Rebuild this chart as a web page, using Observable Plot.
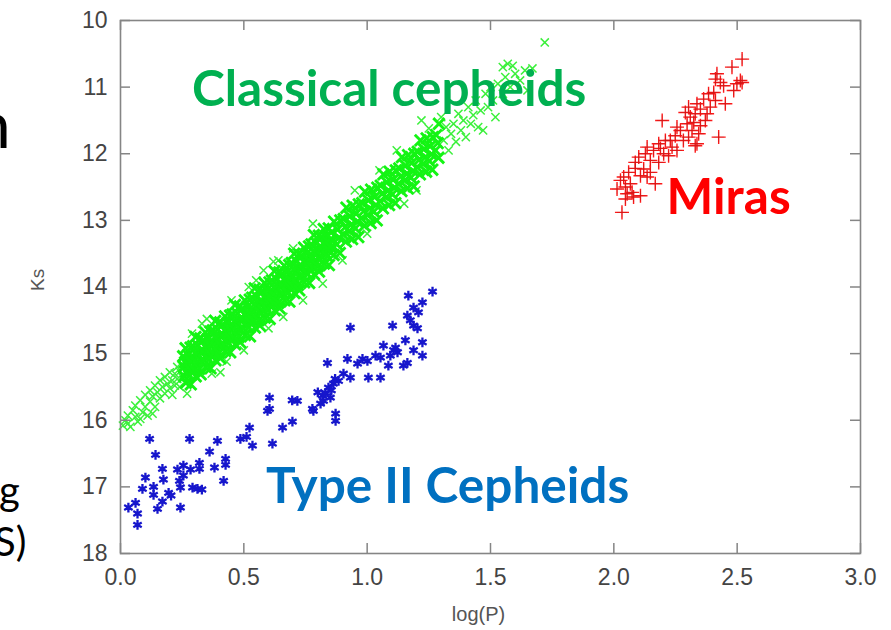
<!DOCTYPE html>
<html><head><meta charset="utf-8">
<script src="https://cdn.jsdelivr.net/npm/d3@7"></script>
<script src="https://cdn.jsdelivr.net/npm/@observablehq/plot@0.6"></script>
<style>
body{margin:0;background:#fff;overflow:hidden}
#wrap{position:relative;width:891px;height:630px;overflow:hidden}
#wrap svg{position:absolute;left:0;top:0}
.frag{position:absolute;color:#000;font-family:Lato,"Open Sans",sans-serif;white-space:nowrap;line-height:1}
</style></head><body><div id="wrap">
<div class="frag" style="left:-26px;top:90px;font-size:66px">n</div>
<div class="frag" style="left:-1px;top:470px;font-size:40px">g</div>
<div class="frag" style="left:-6px;top:521px;font-size:40px">S)</div>
</div>
<script>
// Classical cepheids (green x), log(P) vs Ks
const classicalFaint = [[0.01,16.08],[0.02,16.0],[0.03,15.93],[0.04,16.1],[0.05,15.85],[0.06,15.95],[0.06,15.78],[0.07,16.02],[0.08,15.7],[0.09,15.88],[0.10,15.62],[0.10,15.8],[0.11,15.93],[0.12,15.55],[0.12,15.72],[0.13,15.64],[0.14,15.48],[0.14,15.8],[0.15,15.58],[0.16,15.4],[0.16,15.67],[0.17,15.5],[0.18,15.35],[0.18,15.6],[0.19,15.45],[0.20,15.28],[0.20,15.52],[0.21,15.4],[0.21,15.62],[0.22,15.3],[0.22,15.48],[0.23,15.2],[0.23,15.38],[0.24,15.27],[0.24,15.5],[0.25,15.15],[0.25,15.35],[0.08,15.98],[0.03,16.05],[0.13,15.9]];
const classicalCore = [
[.264,14.92],[.254,15.04],[.262,15.13],[.257,15.20],[.267,15.27],[.259,15.34],[.265,15.44],
[.284,14.91],[.274,15.02],[.282,15.11],[.277,15.18],[.287,15.25],[.279,15.33],[.285,15.46],
[.304,14.75],[.294,14.89],[.302,14.99],[.297,15.07],[.307,15.14],[.299,15.24],[.305,15.34],
[.324,14.77],[.314,14.88],[.322,14.97],[.317,15.04],[.327,15.12],[.319,15.23],[.325,15.31],
[.344,14.68],[.334,14.80],[.342,14.89],[.337,14.96],[.347,15.03],[.339,15.10],[.345,15.20],
[.364,14.67],[.354,14.78],[.362,14.87],[.357,14.94],[.367,15.01],[.359,15.09],[.365,15.22],
[.384,14.51],[.374,14.65],[.382,14.75],[.377,14.83],[.387,14.90],[.379,15.00],[.385,15.10],
[.404,14.53],[.394,14.64],[.402,14.73],[.397,14.80],[.407,14.88],[.399,14.99],[.405,15.07],
[.424,14.44],[.414,14.56],[.422,14.65],[.417,14.72],[.427,14.79],[.419,14.86],[.425,14.96],
[.444,14.43],[.434,14.54],[.442,14.63],[.437,14.70],[.447,14.77],[.439,14.85],[.445,14.98],
[.464,14.27],[.454,14.41],[.462,14.51],[.457,14.59],[.467,14.66],[.459,14.76],[.465,14.86],
[.484,14.29],[.474,14.40],[.482,14.49],[.477,14.56],[.487,14.64],[.479,14.75],[.485,14.83],
[.504,14.20],[.494,14.32],[.502,14.41],[.497,14.48],[.507,14.55],[.499,14.62],[.505,14.72],
[.524,14.19],[.514,14.30],[.522,14.39],[.517,14.46],[.527,14.53],[.519,14.61],[.525,14.74],
[.544,14.02],[.534,14.16],[.542,14.26],[.537,14.34],[.547,14.41],[.539,14.51],[.545,14.61],
[.564,14.04],[.554,14.15],[.562,14.24],[.557,14.31],[.567,14.39],[.559,14.50],[.565,14.58],
[.584,13.94],[.574,14.06],[.582,14.15],[.577,14.22],[.587,14.29],[.579,14.36],[.585,14.46],
[.604,13.93],[.594,14.04],[.602,14.13],[.597,14.20],[.607,14.27],[.599,14.35],[.605,14.48],
[.624,13.76],[.614,13.90],[.622,14.00],[.617,14.08],[.627,14.15],[.619,14.25],[.625,14.35],
[.644,13.78],[.634,13.89],[.642,13.98],[.637,14.05],[.647,14.13],[.639,14.24],[.645,14.32],
[.664,13.68],[.654,13.80],[.662,13.89],[.657,13.96],[.667,14.03],[.659,14.10],[.665,14.20],
[.684,13.67],[.674,13.78],[.682,13.87],[.677,13.94],[.687,14.01],[.679,14.09],[.685,14.22],
[.704,13.50],[.694,13.64],[.702,13.74],[.697,13.82],[.707,13.89],[.699,13.99],[.705,14.09],
[.724,13.51],[.714,13.62],[.722,13.71],[.717,13.78],[.727,13.86],[.719,13.97],[.725,14.05],
[.744,13.41],[.734,13.53],[.742,13.62],[.737,13.69],[.747,13.76],[.739,13.83],[.745,13.93],
[.764,13.39],[.754,13.50],[.762,13.59],[.757,13.66],[.767,13.73],[.759,13.81],[.765,13.94],
[.784,13.22],[.774,13.36],[.782,13.46],[.777,13.54],[.787,13.61],[.779,13.71],[.785,13.81],
[.804,13.23],[.794,13.34],[.802,13.43],[.797,13.50],[.807,13.58],[.799,13.69],[.805,13.77],
[.824,13.13],[.814,13.25],[.822,13.34],[.817,13.41],[.827,13.48],[.819,13.55],[.825,13.65],
[.844,13.12],[.834,13.23],[.842,13.32],[.837,13.39],[.847,13.46],[.839,13.54],[.845,13.67]];
const classicalUpper = [
[.866,13.02],[.855,13.18],[.861,13.30],[.852,13.40],[.864,13.52],
[.891,13.00],[.880,13.14],[.886,13.26],[.877,13.36],[.889,13.49],
[.916,12.81],[.905,12.98],[.911,13.10],[.902,13.21],[.914,13.32],
[.941,12.78],[.930,12.94],[.936,13.06],[.927,13.16],[.939,13.28],
[.966,12.76],[.955,12.90],[.961,13.02],[.952,13.12],[.964,13.25],
[.991,12.57],[.980,12.74],[.986,12.86],[.977,12.97],[.989,13.08],
[1.016,12.54],[1.005,12.70],[1.011,12.82],[1.002,12.92],[1.014,13.04],
[1.041,12.51],[1.030,12.65],[1.036,12.77],[1.027,12.87],[1.039,13.00],
[1.066,12.31],[1.055,12.48],[1.061,12.60],[1.052,12.71],[1.064,12.82],
[1.091,12.27],[1.080,12.43],[1.086,12.55],[1.077,12.65],[1.089,12.77],
[1.116,12.25],[1.105,12.39],[1.111,12.51],[1.102,12.61],[1.114,12.74],
[1.141,12.05],[1.130,12.22],[1.136,12.34],[1.127,12.45],[1.139,12.56],
[1.166,12.02],[1.155,12.18],[1.161,12.30],[1.152,12.40],[1.164,12.52],
[1.191,12.00],[1.180,12.14],[1.186,12.26],[1.177,12.36],[1.189,12.49],
[1.216,11.80],[1.205,11.97],[1.211,12.09],[1.202,12.20],[1.214,12.31],
[1.241,11.77],[1.230,11.93],[1.236,12.05],[1.227,12.15],[1.239,12.27],
[1.266,11.75],[1.255,11.89],[1.261,12.01],[1.252,12.11],[1.264,12.24],
[1.291,11.55],[1.280,11.72],[1.286,11.84],[1.277,11.95],[1.289,12.06]];
const classicalBright = [[1.31,11.8],[1.32,11.6],[1.33,11.95],[1.34,11.7],[1.35,11.55],[1.36,11.82],[1.37,11.4],[1.38,11.65],[1.39,11.5],[1.40,11.75],[1.41,11.3],[1.42,11.55],[1.43,11.42],[1.44,11.2],[1.45,11.6],[1.46,11.35],[1.47,11.65],[1.48,11.1],[1.49,11.3],[1.50,11.0],[1.51,11.2],[1.52,11.45],[1.53,10.95],[1.55,11.1],[1.56,10.85],[1.57,10.65],[1.58,11.0],[1.60,10.8],[1.62,10.9],[1.64,10.75],[1.67,10.72],[1.59,10.68],[1.72,10.33],[1.55,10.7],[1.65,11.05]];
const classicalOutliers = [[0.405,15.28],[0.33,14.55],[0.45,14.2],[0.55,13.9],[0.62,13.62],[0.70,13.42],[0.78,13.05],[0.29,14.7],[0.37,15.3],[0.50,14.95],[0.60,14.62],[0.66,14.45],[0.74,14.2],[0.82,13.95],[0.35,14.48],[0.52,14.0],[0.64,13.6],[0.27,15.6],[0.43,15.12],[0.58,13.75],[0.95,12.55],[1.05,12.25],[1.12,11.95],[1.22,11.5],[1.25,11.62],[1.30,11.45],[0.90,13.6],[1.00,13.2],[1.15,12.75],[1.20,12.55]];

// Type II Cepheids (blue *)
const typeII = [[0.118,16.28],[0.280,16.28],[0.393,16.31],[0.142,16.52],[0.361,16.47],[0.426,16.58],[0.426,16.67],[0.170,16.73],[0.231,16.74],[0.255,16.68],[0.284,16.74],[0.320,16.64],[0.320,16.73],[0.381,16.71],[0.255,16.83],[0.101,16.86],[0.174,16.89],[0.239,16.91],[0.418,16.91],[0.089,17.03],[0.134,17.00],[0.134,17.12],[0.195,17.09],[0.205,17.13],[0.243,17.01],[0.292,17.01],[0.312,17.03],[0.330,17.04],[0.170,17.22],[0.150,17.33],[0.243,17.31],[0.061,17.24],[0.032,17.31],[0.069,17.40],[0.069,17.57],[0.486,16.28],[0.511,16.25],[0.523,16.11],[0.535,16.38],[0.596,15.86],[0.616,16.35],[0.657,16.11],[0.697,16.02],[0.717,15.71],[0.604,15.66],[0.604,15.83],[0.782,15.86],[0.811,15.75],[0.872,15.90],[0.872,16.01],[0.823,15.71],[0.819,15.63],[0.831,15.59],[0.843,15.51],[0.863,15.45],[0.851,15.66],[0.884,15.41],[0.904,15.30],[0.932,15.36],[1.005,15.36],[1.054,15.36],[0.839,15.14],[0.920,15.08],[0.961,15.15],[0.981,15.08],[1.001,15.11],[1.034,15.03],[1.054,15.06],[1.086,15.18],[1.147,15.18],[1.163,15.14],[1.188,14.95],[1.224,15.03],[1.066,14.88],[1.115,14.91],[1.123,14.98],[1.155,14.80],[1.224,14.83],[0.932,14.61],[1.103,14.58],[1.188,14.58],[1.204,14.62],[1.163,14.43],[1.175,14.50],[1.188,14.31],[1.224,14.23],[1.167,14.13],[1.265,14.07],[1.208,14.38],[0.696,15.70],[0.778,15.83],[1.107,14.95],[1.094,15.03],[0.800,15.58],[0.855,15.55],[0.870,15.38]];

// Miras (red +)
const miras = [[2.520,10.58],[2.479,10.70],[2.513,10.90],[2.499,10.95],[2.418,10.80],[2.412,10.88],[2.432,10.93],[2.445,10.98],[2.520,10.93],[2.486,11.05],[2.405,11.08],[2.384,11.10],[2.364,11.18],[2.412,11.20],[2.452,11.25],[2.337,11.25],[2.351,11.33],[2.330,11.40],[2.378,11.40],[2.391,11.30],[2.310,11.45],[2.297,11.55],[2.324,11.53],[2.317,11.65],[2.344,11.70],[2.303,11.75],[2.330,11.88],[2.425,11.75],[2.196,11.50],[2.270,11.65],[2.249,11.73],[2.229,11.80],[2.209,11.80],[2.236,11.90],[2.256,11.95],[2.182,11.85],[2.161,11.95],[2.135,11.90],[2.128,12.00],[2.202,12.00],[2.222,12.03],[2.101,12.05],[2.087,12.13],[2.148,12.10],[2.182,12.13],[2.121,12.23],[2.148,12.28],[2.135,12.35],[2.168,12.45],[2.060,12.28],[2.040,12.35],[2.027,12.40],[2.067,12.45],[2.047,12.50],[2.013,12.53],[2.054,12.60],[2.074,12.58],[2.080,12.65],[2.108,12.63],[2.047,12.68],[2.033,12.88],[2.256,11.60],[2.290,11.38],[2.303,11.30],[2.337,11.85],[2.371,11.50],[2.351,11.58],[2.282,11.80],[2.189,11.92],[2.108,12.33],[2.087,12.22]];

const xTicks = [0, 0.5, 1.0, 1.5, 2.0, 2.5, 3.0];
const yTicks = [10, 11, 12, 13, 14, 15, 16, 17, 18];
const xLabel = "log(P)";
const yLabel = "Ks";
const annotationText = ["Classical cepheids", "Miras", "Type II Cepheids"];
const annotationLogP = [0.29, 2.214, 0.59];
const annotationKs = [11.05, 12.66, 17.01];
const annotationColor = ["#00B050", "#FF0000", "#0070C0"];

const classicalSparse = [...classicalFaint, ...classicalBright, ...classicalOutliers];
const classicalDense = [...classicalCore, ...classicalUpper];
const annotations = annotationText.map((t, i) => ({t, x: annotationLogP[i], y: annotationKs[i], c: annotationColor[i]}));

const W = 891, H = 630, mL = 120, mR = 31, mT = 20, mB = 77;
const fw = W - mL - mR, fh = H - mT - mB, tick = 10, axisColor = "#858585";

const plot = Plot.plot({
  width: W, height: H,
  marginLeft: mL, marginRight: mR, marginTop: mT, marginBottom: mB,
  style: {background: "transparent", fontFamily: "'Liberation Sans', Arial, sans-serif", fontSize: "23px", color: "#444"},
  x: {domain: [0, 3]},
  y: {domain: [10, 18], reverse: true},
  marks: [
    Plot.dot(classicalSparse, {x: d => d[0], y: d => d[1], symbol: "times", r: 3.8, stroke: "#3cf03c", strokeWidth: 1.5}),
    Plot.dot(classicalDense, {x: d => d[0], y: d => d[1], symbol: "times", r: 5.2, stroke: "#14f414", strokeWidth: 2.9}),
    Plot.dot(typeII, {x: d => d[0], y: d => d[1], symbol: "asterisk", r: 4.6, stroke: "#1616cc", strokeWidth: 2.3}),
    Plot.dot(miras, {x: d => d[0], y: d => d[1], symbol: "plus", r: 4.6, stroke: "#ff1a1a", strokeWidth: 1.4}),
    Plot.dot(miras, {x: d => d[0], y: d => d[1], symbol: "plus", r: 3.4, stroke: "#701818", strokeWidth: 0.5, strokeOpacity: 0.45}),
    Plot.frame({stroke: axisColor, strokeWidth: 1.6}),
    Plot.ruleX(xTicks, {x: d => d, insetTop: fh - tick, stroke: axisColor, strokeWidth: 1.5}),
    Plot.ruleX(xTicks, {x: d => d, insetBottom: fh - tick, stroke: axisColor, strokeWidth: 1.5}),
    Plot.ruleY(yTicks, {y: d => d, insetRight: fw - tick, stroke: axisColor, strokeWidth: 1.5}),
    Plot.ruleY(yTicks, {y: d => d, insetLeft: fw - tick, stroke: axisColor, strokeWidth: 1.5}),
    Plot.axisX(xTicks, {tickSize: 0, tickPadding: 15, label: null, tickFormat: d3.format(".1f"), fill: "#444"}),
    Plot.axisY(yTicks, {tickSize: 0, tickPadding: 13, label: null, tickFormat: d => String(d), fill: "#444"}),
    Plot.text([yLabel], {text: d => d, frameAnchor: "left", dx: -83, dy: 4, rotate: -90, fontSize: 19, fill: "#555"}),
    Plot.text([xLabel], {text: d => d, frameAnchor: "bottom", dx: -12, dy: 67, fontSize: 20, fill: "#555"}),
    Plot.text(annotations, {x: "x", y: "y", text: "t", fill: "c", textAnchor: "start", fontSize: 49.5, fontWeight: "bold", fontFamily: "Lato, 'Open Sans', sans-serif"})
  ]
});
document.getElementById("wrap").prepend(plot);
</script>
</body></html>
